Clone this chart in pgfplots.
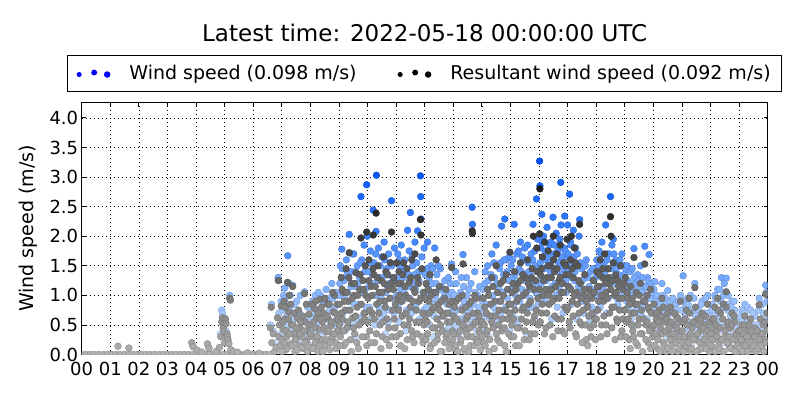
\documentclass[border=0pt]{standalone}
\usepackage{fontspec}
\setmainfont{DejaVu Sans}
\usepackage{pgfplots}
\pgfplotsset{compat=1.18}

% colours follow the value: pale at calm, strong at the gusts
\pgfplotsset{
  colormap={windmap}{[1pt] rgb255(0pt)=(222,234,255); rgb255(10pt)=(140,185,255); rgb255(20pt)=(60,130,255); rgb255(30pt)=(10,90,250); rgb255(33pt)=(0,80,240)},
  colormap={resmap}{[1pt] rgb255(0pt)=(178,178,178); rgb255(10pt)=(120,120,120); rgb255(20pt)=(55,55,55); rgb255(30pt)=(18,18,18); rgb255(33pt)=(10,10,10)},
}

\begin{document}
\begin{tikzpicture}
\useasboundingbox (-81.7pt,-45.5pt) rectangle (718.3pt,354.5pt);
\begin{axis}[
  at={(0,0)}, anchor=south west,
  scale only axis, width=686pt, height=252pt,
  xmin=0, xmax=24, ymin=0, ymax=4.26,
  xtick={0,1,...,24},
  xticklabels={00,01,02,03,04,05,06,07,08,09,10,11,12,13,14,15,16,17,18,19,20,21,22,23,00},
  ytick={0,0.5,...,4.0},
  yticklabel style={/pgf/number format/.cd, fixed, fixed zerofill, precision=1},
  xticklabel style={yshift=-4pt},
  /pgf/number format/assume math mode=true,
  tick label style={font=\fontsize{18}{20}\selectfont},
  tick align=inside, major tick length=4pt, tick style={black, line width=0.8pt},
  axis line style={black, line width=1.2pt},
  grid=major, grid style={black, line width=0.7pt, dash pattern=on 1pt off 3pt},
  title={Latest time: 2022-05-18 00:00:00 UTC},
  title style={font=\fontsize{23}{27}\selectfont, at={(axis description cs:0.5,1)}, anchor=base, yshift=55pt},
  ylabel={Wind speed (m/s)},
  ylabel style={font=\fontsize{19}{22}\selectfont, at={(axis description cs:-0.0783,0.5)}, anchor=center},
  legend columns=2,
  legend cell align=left,
  legend style={at={(axis description cs:0.5,1.0397)}, anchor=south, draw=black, line width=1pt,
    font=\fontsize{19}{22}\selectfont, inner xsep=9pt, inner ysep=8.5pt,
    /tikz/every odd column/.append style={column sep=17pt},
    /tikz/every even column/.append style={column sep=39pt}},
  clip marker paths=true,
  point meta min=0, point meta max=3.3,
]

\addlegendimage{legend image code/.code={
  \fill[blue] (0pt,-1pt) circle (2pt); \fill[blue] (15pt,1pt) circle (2.4pt); \fill[blue] (28pt,-1pt) circle (2.7pt);}}
\addlegendentry{Wind speed (0.098 m/s)}
\addlegendimage{legend image code/.code={
  \fill[black] (0pt,-1pt) circle (2pt); \fill[black] (15pt,1pt) circle (2.4pt); \fill[black] (28pt,-1pt) circle (2.7pt);}}
\addlegendentry{Resultant wind speed (0.092 m/s)}

% wind speed
\addplot[scatter, only marks, mark=*, mark size=3.4pt, colormap name=windmap, point meta=y, forget plot] coordinates {
(3.88,0.15) (4.45,0.12) (4.85,0.35) (4.9,0.75) (4.92,0.7) (4.95,0.5) (4.98,0.62) (5.05,0.4) (5.1,0.25) (5.18,1.0)
(6.6,0.5) (6.64,0.85) (6.7,0.4) (6.8,0.2) (6.87,1.3) (6.9,0.7) (6.95,0.35) (6.98,0.9)
(7.02,0.5) (7.06,1.0) (7.1,1.12) (7.14,0.3) (7.18,0.65) (7.21,1.67) (7.25,1.2) (7.28,0.8) (7.32,0.45) (7.38,1.17) (7.42,0.6) (7.48,0.2) (7.52,0.9) (7.58,0.4) (7.62,0.7) (7.68,0.25) (7.72,0.55) (7.8,1.06) (7.85,0.35) (7.9,0.8) (7.96,0.15)
(7.03,0.75) (7.12,0.95) (7.22,0.5) (7.3,1.0) (7.45,0.85) (7.55,0.6) (7.65,1.0) (7.75,0.3) (7.88,0.6)
(8.03,0.6) (8.08,0.9) (8.12,0.4) (8.17,1.0) (8.2,0.25) (8.25,0.75) (8.3,0.55) (8.37,0.99) (8.4,0.35) (8.45,0.85) (8.5,0.6) (8.55,1.1) (8.6,0.2) (8.65,0.95) (8.7,0.5) (8.75,1.2) (8.8,0.3) (8.85,0.8) (8.9,1.05) (8.95,0.45)
(8.01,0.8) (8.1,0.45) (8.15,0.7) (8.28,1.05) (8.33,0.4) (8.42,0.7) (8.52,0.9) (8.58,0.45) (8.68,0.75) (8.78,0.95) (8.83,0.55) (8.93,1.0)
(9.02,1.0) (9.05,1.5) (9.1,1.78) (9.14,0.7) (9.18,1.25) (9.22,0.4) (9.26,1.6) (9.3,1.05) (9.36,2.03) (9.4,0.9) (9.44,1.4) (9.48,0.55) (9.52,1.7) (9.56,1.15) (9.6,0.3) (9.64,1.5) (9.68,0.85) (9.72,1.3) (9.77,2.67) (9.8,1.6) (9.84,0.65) (9.88,1.85) (9.92,1.1) (9.97,2.87) (9.99,2.0)
(9.03,1.2) (9.08,0.55) (9.12,1.45) (9.2,0.95) (9.28,1.35) (9.33,0.75) (9.42,1.15) (9.46,1.7) (9.54,0.85) (9.58,1.4) (9.66,1.2) (9.7,0.6) (9.75,1.55) (9.82,1.05) (9.9,1.4) (9.95,0.8)
(10.02,1.4) (10.06,0.8) (10.1,1.75) (10.14,1.2) (10.2,2.44) (10.22,1.55) (10.26,0.5) (10.3,2.08) (10.31,3.03) (10.34,1.0) (10.38,1.8) (10.42,1.3) (10.46,0.6) (10.5,1.65) (10.54,1.05) (10.58,1.9) (10.62,0.35) (10.66,1.45) (10.7,1.15) (10.74,1.7) (10.78,0.75) (10.84,2.6) (10.86,1.5) (10.9,0.95) (10.94,1.8) (10.97,1.25)
(10.04,1.15) (10.08,1.55) (10.12,0.6) (10.17,1.35) (10.24,1.0) (10.28,1.7) (10.36,1.25) (10.4,0.8) (10.44,1.5) (10.48,0.95) (10.52,1.3) (10.56,0.7) (10.6,1.6) (10.64,1.05) (10.68,1.35) (10.72,0.55) (10.76,1.2) (10.8,1.55) (10.88,1.3) (10.92,0.7)
(11.02,1.0) (11.06,1.7) (11.1,0.55) (11.14,1.45) (11.18,1.85) (11.22,0.9) (11.26,1.3) (11.3,1.6) (11.34,0.4) (11.4,2.1) (11.42,1.15) (11.46,1.75) (11.5,2.4) (11.54,0.7) (11.58,1.5) (11.62,1.2) (11.66,1.9) (11.7,0.85) (11.75,2.09) (11.78,1.4) (11.82,0.6) (11.85,3.02) (11.86,2.67) (11.87,2.29) (11.9,1.65) (11.94,1.05) (11.98,1.8)
(11.04,1.3) (11.08,0.8) (11.12,1.6) (11.16,1.1) (11.2,0.65) (11.24,1.5) (11.28,1.05) (11.32,1.4) (11.36,0.75) (11.44,1.35) (11.48,0.95) (11.52,1.2) (11.56,1.65) (11.6,0.85) (11.64,1.35) (11.68,1.1) (11.72,1.55) (11.8,1.25) (11.92,1.4) (11.96,0.75)
(12.02,1.35) (12.06,0.8) (12.1,1.9) (12.14,1.1) (12.18,0.5) (12.22,1.5) (12.26,1.2) (12.3,0.3) (12.35,1.8) (12.38,1.0) (12.42,1.35) (12.46,0.6) (12.5,1.1) (12.55,1.45) (12.6,0.4) (12.65,0.95) (12.7,1.25) (12.75,0.7) (12.8,1.0) (12.85,0.45) (12.9,1.2) (12.94,1.53) (12.98,0.8)
(12.04,1.0) (12.08,1.45) (12.12,0.7) (12.16,1.3) (12.2,0.9) (12.24,1.05) (12.28,1.45) (12.32,0.65) (12.4,1.2) (12.44,0.9) (12.48,1.5) (12.52,0.75) (12.58,1.15) (12.62,0.65) (12.68,1.05) (12.72,0.4) (12.78,0.85) (12.83,1.3) (12.88,0.7) (12.96,1.05)
(13.02,1.0) (13.06,0.5) (13.1,1.2) (13.15,0.75) (13.2,0.3) (13.25,1.05) (13.3,0.6) (13.34,1.69) (13.38,0.9) (13.42,0.4) (13.46,1.3) (13.5,0.7) (13.55,1.1) (13.6,0.5) (13.66,2.49) (13.67,2.2) (13.7,0.85) (13.75,1.4) (13.8,0.6) (13.85,1.0) (13.9,0.3) (13.95,0.75)
(13.04,0.75) (13.08,1.4) (13.12,0.45) (13.18,0.95) (13.22,0.6) (13.28,1.3) (13.32,0.8) (13.36,1.15) (13.44,0.65) (13.48,1.0) (13.52,0.45) (13.58,0.8) (13.62,1.2) (13.72,0.6) (13.78,1.05) (13.82,0.4) (13.88,0.8) (13.92,1.15) (13.98,0.55)
(14.02,0.9) (14.06,0.45) (14.1,1.2) (14.15,0.65) (14.2,1.5) (14.25,0.3) (14.3,1.0) (14.35,1.7) (14.4,0.8) (14.45,1.3) (14.5,1.85) (14.55,0.55) (14.6,1.1) (14.65,1.55) (14.69,2.17) (14.72,0.75) (14.76,1.35) (14.8,2.29) (14.85,1.6) (14.9,0.95) (14.94,1.25) (14.98,0.4)
(14.04,1.1) (14.08,0.7) (14.12,1.4) (14.18,0.85) (14.22,1.25) (14.28,0.6) (14.32,1.35) (14.38,1.0) (14.42,1.55) (14.48,0.7) (14.52,1.2) (14.58,0.9) (14.62,1.45) (14.67,0.65) (14.74,1.05) (14.78,1.6) (14.83,0.8) (14.88,1.4) (14.92,1.1) (14.96,1.65)
(15.02,1.5) (15.06,0.7) (15.1,1.3) (15.13,2.2) (15.18,1.0) (15.22,1.7) (15.26,0.5) (15.3,1.45) (15.35,1.9) (15.4,1.1) (15.44,0.8) (15.48,1.6) (15.52,1.25) (15.56,0.35) (15.6,1.85) (15.64,1.4) (15.68,0.95) (15.72,1.7) (15.76,1.15) (15.79,2.2) (15.83,0.6) (15.87,1.5) (15.91,2.63) (15.95,1.95) (15.98,1.2)
(15.04,1.1) (15.08,1.6) (15.12,0.85) (15.16,1.35) (15.2,0.6) (15.24,1.2) (15.28,1.75) (15.33,0.9) (15.38,1.4) (15.42,1.65) (15.46,1.0) (15.5,1.8) (15.54,0.75) (15.58,1.3) (15.62,1.55) (15.66,1.1) (15.7,1.35) (15.74,0.8) (15.78,1.6) (15.81,1.25) (15.85,1.75) (15.89,1.05) (15.93,1.45) (15.97,0.85)
(16.02,3.27) (16.03,2.85) (16.06,1.8) (16.1,2.37) (16.12,1.3) (16.16,2.0) (16.2,0.9) (16.24,1.6) (16.28,2.15) (16.32,1.1) (16.36,1.85) (16.4,1.4) (16.44,0.6) (16.49,2.32) (16.52,1.7) (16.56,1.2) (16.6,2.05) (16.64,0.8) (16.68,1.55) (16.72,1.95) (16.76,2.91) (16.77,2.19) (16.8,1.35) (16.84,0.7) (16.88,1.8) (16.9,2.34) (16.94,1.25) (16.98,1.65)
(16.04,1.55) (16.08,1.2) (16.11,1.9) (16.14,1.0) (16.18,1.45) (16.22,1.75) (16.26,1.25) (16.3,1.65) (16.34,0.85) (16.38,1.55) (16.42,1.9) (16.46,1.15) (16.5,1.45) (16.54,1.85) (16.58,1.0) (16.62,1.4) (16.66,1.75) (16.7,1.1) (16.74,1.5) (16.78,1.65) (16.82,1.2) (16.86,1.45) (16.92,1.75) (16.96,1.05)
(17.0,2.19) (17.03,1.45) (17.07,2.71) (17.1,1.9) (17.14,0.85) (17.18,1.6) (17.2,2.1) (17.24,1.25) (17.28,1.8) (17.32,0.6) (17.36,1.5) (17.4,2.0) (17.42,2.28) (17.46,1.05) (17.5,1.45) (17.55,0.7) (17.6,1.3) (17.65,1.6) (17.7,0.5) (17.75,1.15) (17.8,1.4) (17.85,0.8) (17.9,1.25) (17.95,1.0)
(17.02,1.7) (17.05,1.15) (17.09,1.5) (17.12,1.85) (17.16,1.3) (17.22,1.65) (17.26,1.4) (17.3,1.0) (17.34,1.7) (17.38,1.15) (17.44,1.55) (17.48,0.9) (17.52,1.25) (17.58,1.0) (17.62,1.5) (17.68,0.85) (17.72,1.3) (17.78,0.6) (17.82,1.1) (17.88,1.45) (17.92,0.7) (17.98,1.3)
(18.02,1.6) (18.06,1.1) (18.1,1.75) (18.14,0.8) (18.2,1.9) (18.24,1.3) (18.28,1.55) (18.33,2.19) (18.36,0.7) (18.4,1.7) (18.44,1.2) (18.48,1.45) (18.5,2.67) (18.55,1.85) (18.6,1.95) (18.64,1.0) (18.68,1.6) (18.72,1.25) (18.76,0.85) (18.8,1.5) (18.85,1.15) (18.9,1.7) (18.94,0.6) (18.98,1.35)
(18.04,1.35) (18.08,1.5) (18.12,1.0) (18.17,1.7) (18.22,1.45) (18.26,1.1) (18.3,1.4) (18.38,1.6) (18.42,0.95) (18.46,1.7) (18.53,1.3) (18.58,1.45) (18.62,1.7) (18.66,1.2) (18.7,1.45) (18.74,0.95) (18.78,1.35) (18.83,1.6) (18.87,1.0) (18.92,1.3) (18.96,1.5)
(19.02,1.45) (19.06,0.9) (19.1,1.25) (19.15,0.55) (19.2,1.4) (19.24,1.05) (19.28,0.7) (19.32,1.79) (19.36,1.2) (19.4,0.5) (19.45,1.35) (19.5,0.85) (19.55,1.5) (19.6,0.65) (19.65,1.1) (19.7,1.83) (19.75,0.95) (19.8,1.3) (19.85,1.69) (19.9,0.45) (19.95,1.0)
(19.04,1.1) (19.08,1.5) (19.12,0.8) (19.18,1.2) (19.22,0.6) (19.26,1.45) (19.3,1.0) (19.34,1.3) (19.38,0.75) (19.42,1.1) (19.48,1.25) (19.52,0.7) (19.58,1.05) (19.62,1.3) (19.68,0.8) (19.72,1.15) (19.78,0.6) (19.82,1.25) (19.88,0.95) (19.92,1.2) (19.98,0.7)
(20.02,1.1) (20.05,1.23) (20.1,0.75) (20.15,0.4) (20.2,0.95) (20.3,1.2) (20.35,0.6) (20.4,0.85) (20.45,0.3) (20.5,1.08) (20.55,0.55) (20.6,0.9) (20.65,0.2) (20.7,0.7) (20.75,0.45) (20.8,0.85) (20.85,0.25) (20.9,0.6) (20.95,1.0)
(20.04,0.9) (20.08,0.5) (20.12,1.0) (20.18,0.65) (20.24,0.85) (20.28,0.35) (20.32,1.0) (20.38,0.7) (20.42,0.95) (20.48,0.6) (20.52,0.8) (20.58,0.4) (20.62,0.7) (20.68,0.95) (20.72,0.5) (20.78,0.75) (20.82,0.3) (20.88,0.9) (20.92,0.55) (20.98,0.75)
(21.04,1.33) (21.08,0.4) (21.12,0.8) (21.16,0.25) (21.2,0.95) (21.25,0.55) (21.3,1.0) (21.35,0.2) (21.4,0.7) (21.45,1.2) (21.5,0.45) (21.55,0.8) (21.6,0.3) (21.65,0.65) (21.7,0.9) (21.75,0.35) (21.8,0.7) (21.85,0.5) (21.9,1.0) (21.95,0.25)
(21.02,0.6) (21.06,0.9) (21.1,0.35) (21.14,0.7) (21.18,0.5) (21.22,0.85) (21.28,0.45) (21.32,0.75) (21.38,0.5) (21.42,0.95) (21.48,0.65) (21.52,0.3) (21.58,0.75) (21.62,0.5) (21.68,0.85) (21.72,0.4) (21.78,0.6) (21.82,0.95) (21.88,0.35) (21.92,0.7) (21.98,0.5)
(22.02,0.55) (22.06,0.85) (22.1,0.3) (22.15,1.0) (22.2,0.6) (22.25,1.1) (22.3,0.4) (22.35,0.9) (22.38,1.3) (22.42,0.2) (22.46,1.0) (22.5,0.55) (22.55,1.29) (22.6,0.75) (22.65,0.35) (22.7,0.65) (22.75,0.9) (22.8,0.3) (22.85,0.75) (22.9,0.45) (22.95,0.2)
(22.04,0.75) (22.08,0.4) (22.12,0.65) (22.18,0.95) (22.22,0.35) (22.28,0.7) (22.32,1.1) (22.4,0.55) (22.44,0.8) (22.48,1.2) (22.52,0.85) (22.58,0.5) (22.62,1.0) (22.68,0.45) (22.72,0.8) (22.78,0.55) (22.82,0.9) (22.88,0.35) (22.92,0.6) (22.98,0.35)
(23.02,0.5) (23.06,0.3) (23.1,0.75) (23.15,0.4) (23.2,0.85) (23.25,0.2) (23.3,0.8) (23.35,0.35) (23.4,0.75) (23.45,0.25) (23.5,0.5) (23.55,0.65) (23.6,0.2) (23.65,0.45) (23.7,0.95) (23.75,0.5) (23.8,0.3) (23.85,0.7) (23.9,0.4) (23.93,1.17) (23.97,0.9)
(23.04,0.65) (23.08,0.25) (23.12,0.55) (23.18,0.7) (23.22,0.4) (23.28,0.6) (23.32,0.25) (23.38,0.55) (23.42,0.35) (23.48,0.7) (23.52,0.3) (23.58,0.5) (23.62,0.35) (23.68,0.75) (23.72,0.3) (23.78,0.55) (23.82,0.85) (23.88,0.45) (23.95,1.05) (23.98,0.6)
};

% resultant wind speed
\addplot[scatter, only marks, mark=*, mark size=3.4pt, colormap name=resmap, point meta=y, forget plot] coordinates {
(0,0) (0.15,0) (0.3,0) (0.45,0) (0.6,0) (0.75,0) (0.9,0) (1.05,0) (1.2,0) (1.35,0) (1.5,0) (1.65,0) (1.8,0) (1.95,0) (2.1,0)
(2.25,0) (2.4,0) (2.55,0) (2.7,0) (2.85,0) (3.0,0) (3.15,0) (3.3,0) (3.45,0) (3.6,0) (3.75,0) (3.9,0) (4.05,0) (4.2,0) (4.35,0)
(4.5,0) (4.65,0) (4.8,0) (4.95,0) (5.1,0) (5.25,0) (5.4,0) (5.55,0) (5.7,0) (5.85,0) (6.0,0) (6.15,0) (6.3,0) (6.45,0) (6.6,0)
(1.27,0.14) (1.65,0.11)
(3.85,0.2) (3.9,0.13) (4.05,0.07) (4.2,0.04) (4.4,0.18) (4.45,0.1)
(4.7,0.05) (4.82,0.12) (4.87,0.3) (4.9,0.55) (4.92,0.62) (4.95,0.45) (4.97,0.38) (5.0,0.2) (5.03,0.6) (5.05,0.52) (5.08,0.35) (5.1,0.3) (5.12,0.25) (5.15,0.18) (5.18,0.95) (5.2,0.92) (5.22,0.08) (5.3,0.05) (5.45,0.04)
(5.8,0.03) (6.2,0.02)
(6.6,0.45) (6.63,0.8) (6.65,0.2) (6.7,0.35) (6.75,0.05) (6.8,0.12) (6.85,0.62) (6.88,1.25) (6.9,0.3) (6.92,0.5) (6.95,0.15) (6.98,0.82)
(7.02,0.25) (7.05,0.42) (7.08,0.9) (7.1,0.6) (7.14,0.08) (7.18,0.3) (7.2,1.22) (7.24,0.72) (7.26,1.0) (7.3,0.18) (7.34,0.5) (7.38,1.15) (7.42,0.35) (7.46,0.05) (7.5,0.28) (7.55,0.62) (7.6,0.15) (7.64,0.45) (7.7,0.3) (7.75,0.1) (7.8,1.03) (7.82,0.55) (7.86,0.22) (7.9,0.4) (7.95,0.68)
(7.01,0.05) (7.045,0.55) (7.085,0.2) (7.115,0.8) (7.16,0.4) (7.19,0.1) (7.235,0.6) (7.27,0.35) (7.31,0.85) (7.345,0.15) (7.39,0.5) (7.43,0.7) (7.47,0.25) (7.51,0.45) (7.545,0.08) (7.585,0.75) (7.625,0.35) (7.66,0.55) (7.705,0.12) (7.74,0.65) (7.78,0.4) (7.82,0.2) (7.86,0.85) (7.9,0.05) (7.935,0.5) (7.975,0.3)
(8.02,0.12) (8.05,0.5) (8.1,0.3) (8.14,0.78) (8.18,0.2) (8.22,0.62) (8.26,0.05) (8.3,0.42) (8.34,0.93) (8.38,0.25) (8.42,0.55) (8.46,0.7) (8.5,0.15) (8.55,0.38) (8.6,0.85) (8.63,0.6) (8.68,0.08) (8.72,0.48) (8.76,0.3) (8.8,0.72) (8.84,1.0) (8.88,0.2) (8.92,0.58) (8.96,0.4)
(8.01,0.35) (8.045,0.85) (8.085,0.1) (8.115,0.55) (8.16,0.45) (8.19,0.9) (8.235,0.3) (8.27,0.7) (8.31,0.15) (8.345,0.6) (8.39,0.8) (8.43,0.05) (8.47,0.45) (8.51,0.95) (8.545,0.25) (8.585,0.65) (8.625,0.4) (8.66,0.85) (8.705,0.2) (8.74,0.55) (8.78,1.05) (8.82,0.35) (8.86,0.7) (8.9,0.1) (8.935,0.85) (8.975,0.6)
(9.02,0.85) (9.05,0.3) (9.08,1.3) (9.12,0.6) (9.15,1.05) (9.18,0.15) (9.22,0.75) (9.25,1.45) (9.28,0.45) (9.32,0.9) (9.36,1.72) (9.4,0.25) (9.44,1.2) (9.48,0.62) (9.52,1.0) (9.55,0.35) (9.6,1.38) (9.64,0.8) (9.68,0.1) (9.72,1.1) (9.77,1.97) (9.8,0.55) (9.84,1.25) (9.88,0.7) (9.92,1.5) (9.96,0.3) (9.97,2.07)
(9.01,0.5) (9.045,0.15) (9.085,0.7) (9.115,1.1) (9.16,0.4) (9.19,0.9) (9.235,0.2) (9.27,1.05) (9.31,0.55) (9.345,1.3) (9.39,0.75) (9.43,0.05) (9.47,0.95) (9.51,0.45) (9.545,1.2) (9.585,0.65) (9.625,0.2) (9.66,1.0) (9.705,0.5) (9.74,1.35) (9.78,0.85) (9.82,0.3) (9.86,1.1) (9.9,0.6) (9.935,1.0) (9.975,0.15)
(10.02,0.95) (10.05,1.6) (10.08,0.4) (10.12,1.15) (10.15,0.7) (10.2,2.02) (10.22,1.35) (10.25,0.2) (10.3,2.39) (10.32,0.85) (10.36,1.5) (10.4,1.05) (10.44,0.5) (10.48,1.25) (10.52,0.3) (10.56,1.65) (10.6,0.9) (10.64,1.4) (10.68,0.6) (10.72,1.1) (10.76,0.15) (10.8,1.55) (10.84,2.07) (10.88,0.75) (10.92,1.3) (10.96,0.45)
(10.01,0.55) (10.045,1.25) (10.085,0.75) (10.115,0.2) (10.16,1.0) (10.19,1.45) (10.235,0.6) (10.27,1.15) (10.31,0.35) (10.345,1.3) (10.39,0.7) (10.43,0.9) (10.47,0.1) (10.51,1.05) (10.545,0.55) (10.585,1.2) (10.625,0.8) (10.66,0.25) (10.705,1.35) (10.74,0.45) (10.78,0.95) (10.82,1.2) (10.86,0.3) (10.9,1.1) (10.935,0.6) (10.975,0.85)
(11.02,1.55) (11.05,0.95) (11.1,1.4) (11.14,0.35) (11.18,1.2) (11.22,0.65) (11.26,1.55) (11.3,0.1) (11.34,1.0) (11.38,1.45) (11.42,0.5) (11.46,1.22) (11.5,0.8) (11.55,1.6) (11.58,0.3) (11.62,1.1) (11.66,1.7) (11.7,0.55) (11.75,1.3) (11.8,0.9) (11.85,2.28) (11.87,2.02) (11.9,1.45) (11.94,0.2) (11.97,1.05)
(11.01,0.3) (11.045,1.2) (11.085,0.75) (11.115,1.0) (11.16,0.15) (11.19,0.9) (11.235,1.35) (11.27,0.5) (11.31,1.15) (11.345,0.7) (11.39,0.25) (11.43,0.95) (11.47,0.6) (11.51,1.3) (11.545,0.4) (11.585,0.9) (11.625,0.2) (11.66,1.05) (11.705,0.75) (11.74,0.35) (11.78,1.2) (11.82,0.55) (11.86,0.95) (11.9,0.3) (11.935,0.7) (11.975,0.5)
(12.02,0.6) (12.05,1.2) (12.1,0.35) (12.14,0.9) (12.18,1.35) (12.22,0.15) (12.26,0.75) (12.3,1.05) (12.35,0.45) (12.4,1.6) (12.44,0.25) (12.48,0.85) (12.52,1.15) (12.56,0.5) (12.6,0.05) (12.64,0.7) (12.7,0.95) (12.75,0.3) (12.8,0.55) (12.85,0.85) (12.9,0.2) (12.94,1.47) (12.97,0.4)
(12.01,0.95) (12.045,0.25) (12.085,0.55) (12.115,1.1) (12.16,0.7) (12.19,0.1) (12.235,1.0) (12.27,0.45) (12.31,0.8) (12.345,0.2) (12.39,1.05) (12.43,0.6) (12.47,0.35) (12.51,0.75) (12.545,0.05) (12.585,0.9) (12.625,0.4) (12.66,0.65) (12.705,0.2) (12.74,1.1) (12.78,0.35) (12.82,0.7) (12.86,0.1) (12.9,0.55) (12.935,0.9) (12.975,0.25)
(13.02,0.65) (13.06,0.1) (13.1,0.9) (13.14,0.35) (13.2,0.55) (13.25,0.2) (13.3,0.75) (13.34,1.53) (13.38,0.45) (13.42,0.05) (13.46,0.6) (13.5,0.3) (13.55,0.85) (13.6,0.15) (13.66,2.09) (13.67,2.05) (13.7,0.5) (13.75,1.0) (13.8,0.25) (13.85,0.7) (13.9,0.4) (13.95,0.08)
(13.01,0.35) (13.045,0.8) (13.085,0.15) (13.115,0.6) (13.16,0.05) (13.19,0.95) (13.235,0.4) (13.27,0.25) (13.31,1.0) (13.345,0.5) (13.39,0.1) (13.43,0.8) (13.47,0.35) (13.51,0.65) (13.545,0.05) (13.585,0.45) (13.625,0.9) (13.66,0.3) (13.705,0.7) (13.74,0.15) (13.78,0.55) (13.82,0.95) (13.86,0.2) (13.9,0.65) (13.935,0.35) (13.975,0.5)
(14.02,0.55) (14.06,0.2) (14.1,0.8) (14.15,0.35) (14.2,1.1) (14.25,0.05) (14.3,0.65) (14.35,1.3) (14.4,0.45) (14.45,0.9) (14.5,1.5) (14.55,0.25) (14.6,0.75) (14.65,1.2) (14.7,0.4) (14.75,1.0) (14.8,0.15) (14.85,1.35) (14.9,0.6) (14.94,0.85) (14.98,1.73)
(14.01,0.3) (14.045,0.95) (14.085,0.5) (14.115,0.15) (14.16,0.7) (14.19,0.4) (14.235,1.0) (14.27,0.25) (14.31,0.85) (14.345,0.55) (14.39,1.15) (14.43,0.1) (14.47,0.65) (14.51,0.35) (14.545,1.05) (14.585,0.5) (14.625,0.2) (14.66,0.9) (14.705,0.6) (14.74,1.25) (14.78,0.45) (14.82,0.75) (14.86,0.05) (14.9,1.1) (14.935,0.35) (14.975,0.7)
(15.02,0.3) (15.06,1.05) (15.1,0.6) (15.14,1.4) (15.18,0.15) (15.22,0.9) (15.26,1.2) (15.3,0.45) (15.35,1.55) (15.4,0.75) (15.44,1.0) (15.48,0.25) (15.52,1.3) (15.56,0.55) (15.6,1.6) (15.64,0.85) (15.68,1.15) (15.72,0.35) (15.76,1.45) (15.8,2.0) (15.84,0.65) (15.88,1.25) (15.92,1.8) (15.96,0.95)
(15.01,0.85) (15.045,0.5) (15.085,1.2) (15.115,0.3) (15.16,0.75) (15.19,1.1) (15.235,0.45) (15.27,0.95) (15.31,0.15) (15.345,1.25) (15.39,0.6) (15.43,1.35) (15.47,0.8) (15.51,0.4) (15.545,1.05) (15.585,0.7) (15.625,1.2) (15.66,0.25) (15.705,0.9) (15.74,1.3) (15.78,0.55) (15.82,1.1) (15.86,0.35) (15.9,0.75) (15.935,1.4) (15.975,0.5)
(16.02,2.04) (16.03,2.8) (16.05,1.35) (16.08,0.7) (16.12,1.65) (16.16,1.0) (16.2,1.9) (16.24,0.45) (16.28,1.3) (16.32,1.75) (16.36,0.85) (16.4,1.5) (16.44,1.1) (16.48,0.3) (16.5,2.0) (16.54,1.4) (16.58,0.95) (16.62,1.7) (16.66,0.6) (16.7,1.25) (16.74,1.85) (16.78,1.05) (16.82,0.4) (16.86,1.55) (16.9,0.8) (16.94,1.35) (16.98,1.95)
(16.01,1.1) (16.045,0.55) (16.085,1.45) (16.115,0.85) (16.16,1.25) (16.19,0.35) (16.235,1.1) (16.27,0.7) (16.31,1.5) (16.345,1.0) (16.39,0.5) (16.43,1.3) (16.47,0.9) (16.51,1.6) (16.545,0.65) (16.585,1.15) (16.625,1.45) (16.66,0.4) (16.705,0.95) (16.74,1.3) (16.78,0.6) (16.82,1.2) (16.86,1.05) (16.9,0.35) (16.935,1.5) (16.975,0.75)
(17.02,1.15) (17.06,0.55) (17.1,1.6) (17.13,2.0) (17.16,0.9) (17.2,1.3) (17.24,1.8) (17.28,0.35) (17.32,1.05) (17.36,1.5) (17.4,0.7) (17.42,2.2) (17.45,1.2) (17.5,0.5) (17.55,1.0) (17.6,1.35) (17.65,0.25) (17.7,0.8) (17.75,1.1) (17.8,0.45) (17.85,0.95) (17.9,1.25) (17.95,0.6)
(17.01,0.8) (17.045,1.35) (17.085,0.45) (17.115,1.1) (17.16,1.45) (17.19,0.65) (17.235,1.0) (17.27,1.55) (17.31,0.3) (17.345,0.85) (17.39,1.25) (17.43,0.55) (17.47,0.95) (17.51,0.2) (17.545,0.75) (17.585,1.1) (17.625,0.5) (17.66,0.9) (17.705,0.15) (17.74,0.65) (17.78,1.0) (17.82,0.3) (17.86,0.7) (17.9,0.5) (17.935,1.05) (17.975,0.25)
(18.02,1.4) (18.06,0.75) (18.1,1.15) (18.14,1.6) (18.18,0.5) (18.22,1.3) (18.26,0.9) (18.3,1.7) (18.34,1.05) (18.38,0.35) (18.42,1.45) (18.46,1.2) (18.5,2.33) (18.52,2.0) (18.55,0.8) (18.6,1.55) (18.64,1.0) (18.68,1.35) (18.72,0.6) (18.76,1.25) (18.8,0.95) (18.85,1.5) (18.9,0.4) (18.94,1.1) (18.98,0.75)
(18.01,0.6) (18.045,1.15) (18.085,0.9) (18.115,1.35) (18.16,0.3) (18.19,1.0) (18.235,1.45) (18.27,0.65) (18.31,1.2) (18.345,0.5) (18.39,0.95) (18.43,1.3) (18.47,0.7) (18.51,1.1) (18.545,0.45) (18.585,1.25) (18.625,0.8) (18.66,0.25) (18.705,1.05) (18.74,0.55) (18.78,1.15) (18.82,0.75) (18.86,0.3) (18.9,0.95) (18.935,0.6) (18.975,1.2)
(19.02,1.3) (19.06,0.55) (19.1,0.95) (19.15,0.25) (19.2,1.15) (19.24,0.7) (19.28,0.4) (19.32,1.64) (19.36,0.85) (19.4,1.05) (19.45,0.15) (19.5,0.6) (19.55,1.2) (19.6,0.35) (19.65,0.9) (19.7,1.53) (19.74,0.5) (19.78,1.0) (19.82,0.2) (19.86,0.75) (19.9,1.1) (19.95,0.45)
(19.01,0.75) (19.045,0.3) (19.085,1.05) (19.115,0.6) (19.16,0.85) (19.19,0.1) (19.235,0.5) (19.27,0.95) (19.31,0.3) (19.345,0.7) (19.39,0.2) (19.43,0.85) (19.47,0.5) (19.51,1.0) (19.545,0.35) (19.585,0.75) (19.625,0.05) (19.66,0.6) (19.705,0.9) (19.74,0.25) (19.78,0.55) (19.82,0.8) (19.86,0.4) (19.9,0.1) (19.935,0.7) (19.975,0.3)
(20.02,0.85) (20.06,0.3) (20.1,0.6) (20.15,0.1) (20.2,0.75) (20.25,0.45) (20.3,0.95) (20.35,0.2) (20.4,0.55) (20.45,0.05) (20.5,0.7) (20.55,0.35) (20.6,0.8) (20.65,0.15) (20.7,0.5) (20.75,0.25) (20.8,0.65) (20.85,0.05) (20.9,0.4) (20.95,0.9)
(20.01,0.5) (20.045,0.15) (20.085,0.35) (20.115,0.7) (20.16,0.25) (20.19,0.55) (20.235,0.05) (20.27,0.65) (20.31,0.35) (20.345,0.8) (20.39,0.15) (20.43,0.4) (20.47,0.6) (20.51,0.1) (20.545,0.45) (20.585,0.25) (20.625,0.55) (20.66,0.05) (20.705,0.35) (20.74,0.7) (20.78,0.2) (20.82,0.45) (20.86,0.6) (20.9,0.1) (20.935,0.3) (20.975,0.55)
(21.02,0.2) (21.06,0.55) (21.1,0.1) (21.15,0.75) (21.2,0.3) (21.25,0.95) (21.3,0.05) (21.35,0.45) (21.45,1.13) (21.5,0.25) (21.55,0.6) (21.6,0.08) (21.65,0.4) (21.7,0.7) (21.75,0.15) (21.8,0.5) (21.85,0.3) (21.9,0.85) (21.95,0.05)
(21.01,0.4) (21.045,0.05) (21.085,0.3) (21.115,0.6) (21.16,0.15) (21.19,0.5) (21.235,0.2) (21.27,0.7) (21.31,0.35) (21.345,0.1) (21.39,0.55) (21.43,0.25) (21.47,0.8) (21.51,0.05) (21.545,0.35) (21.585,0.5) (21.625,0.2) (21.66,0.6) (21.705,0.1) (21.74,0.45) (21.78,0.25) (21.82,0.65) (21.86,0.1) (21.9,0.4) (21.935,0.2) (21.975,0.55)
(22.02,0.35) (22.06,0.6) (22.1,0.12) (22.15,0.8) (22.2,0.4) (22.25,0.95) (22.3,0.2) (22.35,0.7) (22.4,0.05) (22.45,0.85) (22.5,0.3) (22.55,1.06) (22.6,0.5) (22.65,0.15) (22.7,0.45) (22.75,0.7) (22.8,0.1) (22.85,0.55) (22.9,0.25) (22.95,0.05)
(22.01,0.15) (22.045,0.45) (22.085,0.25) (22.115,0.6) (22.16,0.05) (22.19,0.5) (22.235,0.3) (22.27,0.75) (22.31,0.1) (22.345,0.45) (22.39,0.25) (22.43,0.6) (22.47,0.05) (22.51,0.4) (22.545,0.8) (22.585,0.2) (22.625,0.55) (22.66,0.3) (22.705,0.1) (22.74,0.5) (22.78,0.25) (22.82,0.65) (22.86,0.05) (22.9,0.35) (22.935,0.15) (22.975,0.4)
(23.02,0.3) (23.06,0.1) (23.1,0.5) (23.15,0.2) (23.2,0.65) (23.25,0.05) (23.3,0.4) (23.35,0.15) (23.4,0.6) (23.45,0.08) (23.5,0.3) (23.55,0.45) (23.6,0.05) (23.65,0.2) (23.7,0.84) (23.75,0.35) (23.8,0.1) (23.85,0.5) (23.9,0.25) (23.93,1.02) (23.97,0.7)
(23.01,0.1) (23.045,0.4) (23.085,0.25) (23.115,0.05) (23.16,0.35) (23.19,0.5) (23.235,0.15) (23.27,0.3) (23.31,0.05) (23.345,0.5) (23.39,0.2) (23.43,0.4) (23.47,0.1) (23.51,0.15) (23.545,0.3) (23.585,0.05) (23.625,0.4) (23.66,0.1) (23.705,0.25) (23.74,0.6) (23.78,0.15) (23.82,0.35) (23.86,0.05) (23.9,0.55) (23.935,0.2) (23.975,0.4)
};

\end{axis}
\end{tikzpicture}
\end{document}
